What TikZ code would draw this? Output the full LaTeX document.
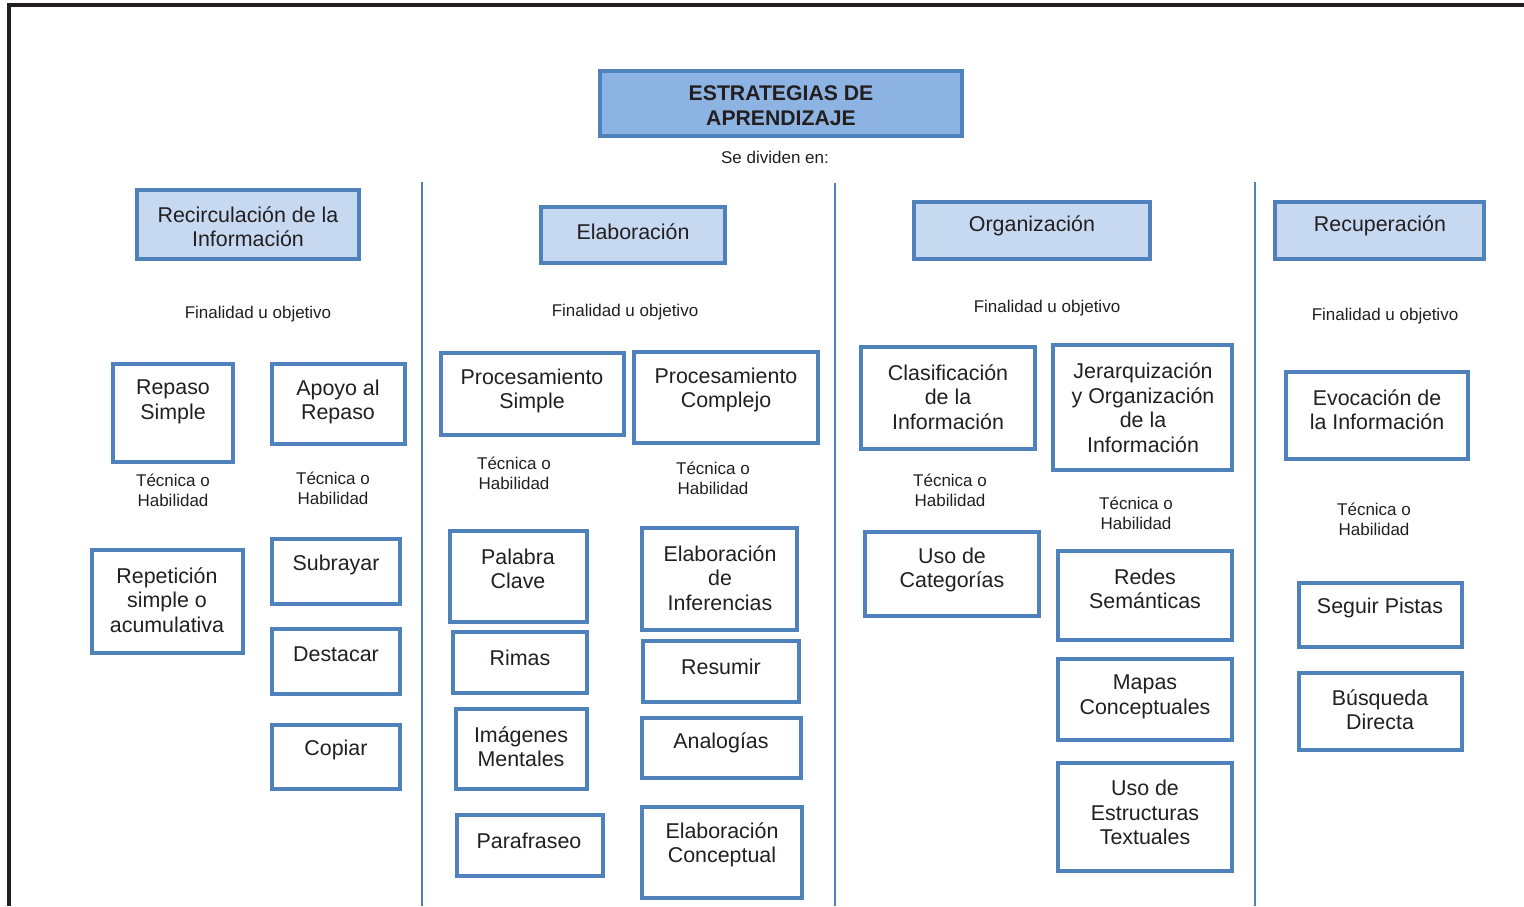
\documentclass[tikz,border=0pt]{standalone}
\usepackage{fontspec}
\setmainfont{Liberation Sans}
\usetikzlibrary{fit}
\definecolor{bblue}{HTML}{4F81BD}
\definecolor{hfill}{HTML}{8DB3E2}
\definecolor{cfill}{HTML}{C6D9F1}
\definecolor{ink}{HTML}{231F20}
\newcommand\bx[6]{\node[#6, fit={(#2,#3) (#4,#5)}] (#1) {};}
\begin{document}
\begin{tikzpicture}[x=0.5pt,y=-0.5pt,
  box/.style={draw=bblue, line width=2pt, fill=white, inner sep=0pt},
  cat/.style={box, fill=cfill},
  head/.style={box, fill=hfill, line width=2.2pt},
  big/.style={text=ink, align=center, inner sep=0pt, yshift=-1.4pt, font=\fontsize{10.7}{12.25}\selectfont},
  bold/.style={text=ink, align=center, inner sep=0pt, yshift=-1pt, font=\bfseries\fontsize{10.6}{12.5}\selectfont},
  small/.style={text=ink, align=center, inner sep=0pt, font=\fontsize{8.5}{10}\selectfont},
  small1/.style={small, yshift=-1pt},
  frame/.style={draw=ink, line width=1.6pt},
  sep/.style={draw=bblue, line width=1pt}]
\useasboundingbox (0,0) rectangle (1524,906);
% frame
\coordinate (f1) at (7,5);
\coordinate (f2) at (1524,5);
\coordinate (f3) at (9,5);
\coordinate (f4) at (9,906);
\draw[frame] (f1) -- (f2);
\draw[frame] (f3) -- (f4);
% separators
\coordinate (s1a) at (422,182); \coordinate (s1b) at (422,906);
\coordinate (s2a) at (835,183); \coordinate (s2b) at (835,906);
\coordinate (s3a) at (1255,182); \coordinate (s3b) at (1255,906);
\draw[sep] (s1a) -- (s1b);
\draw[sep] (s2a) -- (s2b);
\draw[sep] (s3a) -- (s3b);
% header
\bx{hdr}{600}{71}{962}{136}{head}
\node[bold] (thdr) at (781,104) {ESTRATEGIAS DE\\APRENDIZAJE};
\node[small1] (div) at (775,155) {Se dividen en:};
% categories
\bx{c1}{137}{190}{359}{259}{cat}
\node[big] (tc1) at (248,224) {Recirculación de la\\Información};
\bx{c2}{541}{207}{725}{263}{cat}
\node[big] (tc2) at (633,229) {Elaboración};
\bx{c3}{914}{202}{1150}{259}{cat}
\node[big] (tc3) at (1032,223) {Organización};
\bx{c4}{1275}{202}{1484}{259}{cat}
\node[big] (tc4) at (1380,223) {Recuperación};
% finalidad
\node[small1] (f1t) at (258,312) {Finalidad u objetivo};
\node[small1] (f2t) at (625,310) {Finalidad u objetivo};
\node[small1] (f3t) at (1047,306) {Finalidad u objetivo};
\node[small1] (f4t) at (1385,314) {Finalidad u objetivo};
% column 1
\bx{b11}{113}{364}{233}{462}{box}
\node[big] (tb11) at (173,399) {Repaso\\Simple};
\bx{b12}{272}{364}{405}{444}{box}
\node[big] (tb12) at (338,399) {Apoyo al\\Repaso};
\node[small] (h11) at (173,490) {Técnica o\\Habilidad};
\node[small] (h12) at (333,488) {Técnica o\\Habilidad};
\bx{b13}{92}{550}{243}{653}{box}
\node[big] (tb13) at (167,597) {Repetición\\simple o\\acumulativa};
\bx{b14}{272}{539}{400}{604}{box}
\node[big] (tb14) at (336,562) {Subrayar};
\bx{b15}{272}{629}{400}{694}{box}
\node[big] (tb15) at (336,651) {Destacar};
\bx{b16}{272}{725}{400}{789}{box}
\node[big] (tb16) at (336,747) {Copiar};
% column 2
\bx{b21}{441}{353}{624}{435}{box}
\node[big] (tb21) at (532,388) {Procesamiento\\Simple};
\bx{b22}{634}{352}{818}{443}{box}
\node[big] (tb22) at (726,387) {Procesamiento\\Complejo};
\node[small] (h21) at (514,473) {Técnica o\\Habilidad};
\node[small] (h22) at (713,478) {Técnica o\\Habilidad};
\bx{b23}{450}{531}{587}{622}{box}
\node[big] (tb23) at (518,566) {Palabra\\Clave};
\bx{b24}{453}{632}{587}{693}{box}
\node[big] (tb24) at (520,655) {Rimas};
\bx{b25}{456}{709}{587}{789}{box}
\node[big] (tb25) at (521,744) {Imágenes\\Mentales};
\bx{b26}{457}{815}{603}{876}{box}
\node[big] (tb26) at (529,838) {Parafraseo};
\bx{b27}{642}{528}{797}{630}{box}
\node[big] (tb27) at (720,575) {Elaboración\\de\\Inferencias};
\bx{b28}{643}{641}{799}{702}{box}
\node[big] (tb28) at (721,664) {Resumir};
\bx{b29}{642}{718}{801}{778}{box}
\node[big] (tb29) at (721,740) {Analogías};
\bx{b210}{642}{807}{802}{898}{box}
\node[big] (tb210) at (722,842) {Elaboración\\Conceptual};
% column 3
\bx{b31}{861}{347}{1035}{449}{box}
\node[big] (tb31) at (948,394) {Clasificación\\de la\\Información};
\bx{b32}{1053}{345}{1232}{470}{box}
\node[big] (tb32) at (1143,405) {Jerarquización\\y Organización\\de la\\Información};
\node[small] (h31) at (950,490) {Técnica o\\Habilidad};
\node[small] (h32) at (1136,513) {Técnica o\\Habilidad};
\bx{b33}{865}{532}{1039}{616}{box}
\node[big] (tb33) at (952,567) {Uso de\\Categorías};
\bx{b34}{1058}{551}{1232}{640}{box}
\node[big] (tb34) at (1145,586) {Redes\\Semánticas};
\bx{b35}{1058}{659}{1232}{740}{box}
\node[big] (tb35) at (1145,694) {Mapas\\Conceptuales};
\bx{b36}{1058}{763}{1232}{871}{box}
\node[big] (tb36) at (1145,810) {Uso de\\Estructuras\\Textuales};
% column 4
\bx{b41}{1286}{372}{1468}{459}{box}
\node[big] (tb41) at (1377,407) {Evocación de\\la Información};
\node[small] (h41) at (1374,519) {Técnica o\\Habilidad};
\bx{b42}{1299}{583}{1462}{647}{box}
\node[big] (tb42) at (1380,605) {Seguir Pistas};
\bx{b43}{1299}{673}{1462}{750}{box}
\node[big] (tb43) at (1380,707) {Búsqueda\\Directa};
\end{tikzpicture}
\end{document}
